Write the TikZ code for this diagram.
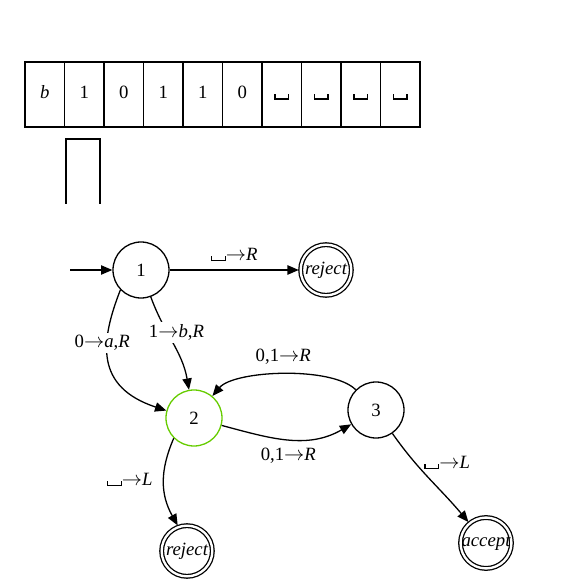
\documentclass[tikz,border=0pt]{standalone}
\usepackage{fontspec}
\setmainfont{Liberation Serif}
\usepackage{xcolor}
\usepackage{tikz}
\usetikzlibrary{arrows.meta, positioning, calc}

\definecolor{stategreen}{RGB}{102,204,0}
\newcommand{\blanksym}{\lower.06em\hbox{\vrule height .3em width .07em\vrule height .07em width .66em\vrule height .3em width .07em}}

\tikzset{
  tapecell/.style={
    draw, line width=1.5pt, minimum width=1.185cm, minimum height=1.95cm,
    inner sep=0pt, text height=1.5ex, text depth=0pt,
    font=\fontsize{16pt}{18pt}\selectfont
  },
  statenode/.style={
    circle, draw, line width=1.1pt, minimum size=1.68cm, inner sep=0pt,
    font=\fontsize{16pt}{18pt}\selectfont
  },
  haltnode/.style={
    circle, draw, line width=1.1pt, double, double distance=2pt,
    minimum size=1.52cm, inner sep=0pt, outer sep=1.6pt,
    font=\fontsize{16pt}{18pt}\selectfont\itshape
  },
  tmarrow/.style={
    -{Triangle[length=3.4mm, width=2.8mm]}, line width=1.1pt
  },
  tmlabel/.style={
    font=\fontsize{16pt}{18pt}\selectfont, inner sep=2pt
  },
}

\begin{document}
\begin{tikzpicture}[x=0.3mm, y=0.3mm]
  \useasboundingbox (0,0) rectangle (582,582);

  % ── Tape ──
  \foreach \i/\sym in {0/\textit{b}, 1/1, 2/0, 3/1, 4/1, 5/0,
                       6/\blanksym, 7/\blanksym, 8/\blanksym, 9/\blanksym} {
    \node[tapecell] (cell\i) at ({25+39.5*(\i+0.5)}, 487.5) {\sym};
  }

  % ── Head ──
  \coordinate (headl) at (66,378);
  \coordinate (headr) at (100,378);
  \draw[line width=1.6pt] (headl) |- (100,443) -- (headr);

  % ── States ──
  \coordinate (start) at (70,312);
  \node[statenode] (q1) at (141,312) {1};
  \node[haltnode] (rejtop) at (326,312) {reject};
  \node[statenode, draw=stategreen] (q2) at (194,164) {2};
  \node[statenode] (q3) at (376,172) {3};
  \node[haltnode] (rejbot) at (187,31) {reject};
  \node[haltnode] (acc) at (486,39) {accept};

  % ── Transitions ──
  \draw[tmarrow] (start) -- (q1);
  \draw[tmarrow] (q1) -- node[tmlabel, above=5pt] {\blanksym$\rightarrow$\textit{R}} (rejtop);
  \draw[tmarrow] (q1.224) .. controls (100,240) and (95,195) ..
    node[tmlabel, fill=white, pos=0.36, xshift=-1.5mm] {0$\rightarrow$\textit{a},\textit{R}} (q2.165);
  \draw[tmarrow] (q1) to[out=290, in=100]
    node[tmlabel, fill=white, pos=0.38, xshift=2.8mm] {1$\rightarrow$\textit{b},\textit{R}} (q2);
  \draw[tmarrow] (q3) to[out=135, in=50, looseness=0.6]
    node[tmlabel, above=6pt] {0,1$\rightarrow$\textit{R}} (q2);
  \draw[tmarrow] (q2) to[out=-15, in=210]
    node[tmlabel, below=5pt] {0,1$\rightarrow$\textit{R}} (q3);
  \draw[tmarrow] (q2.225) .. controls (160,112) and (160,88) ..
    node[tmlabel, left, pos=0.47, xshift=-2.5mm] {\blanksym$\rightarrow$\textit{L}} (rejbot.110);
  \draw[tmarrow] (q3) to[out=-55, in=130]
    node[tmlabel, right, pos=0.3, xshift=2mm] {\blanksym$\rightarrow$\textit{L}} (acc);
\end{tikzpicture}
\end{document}
